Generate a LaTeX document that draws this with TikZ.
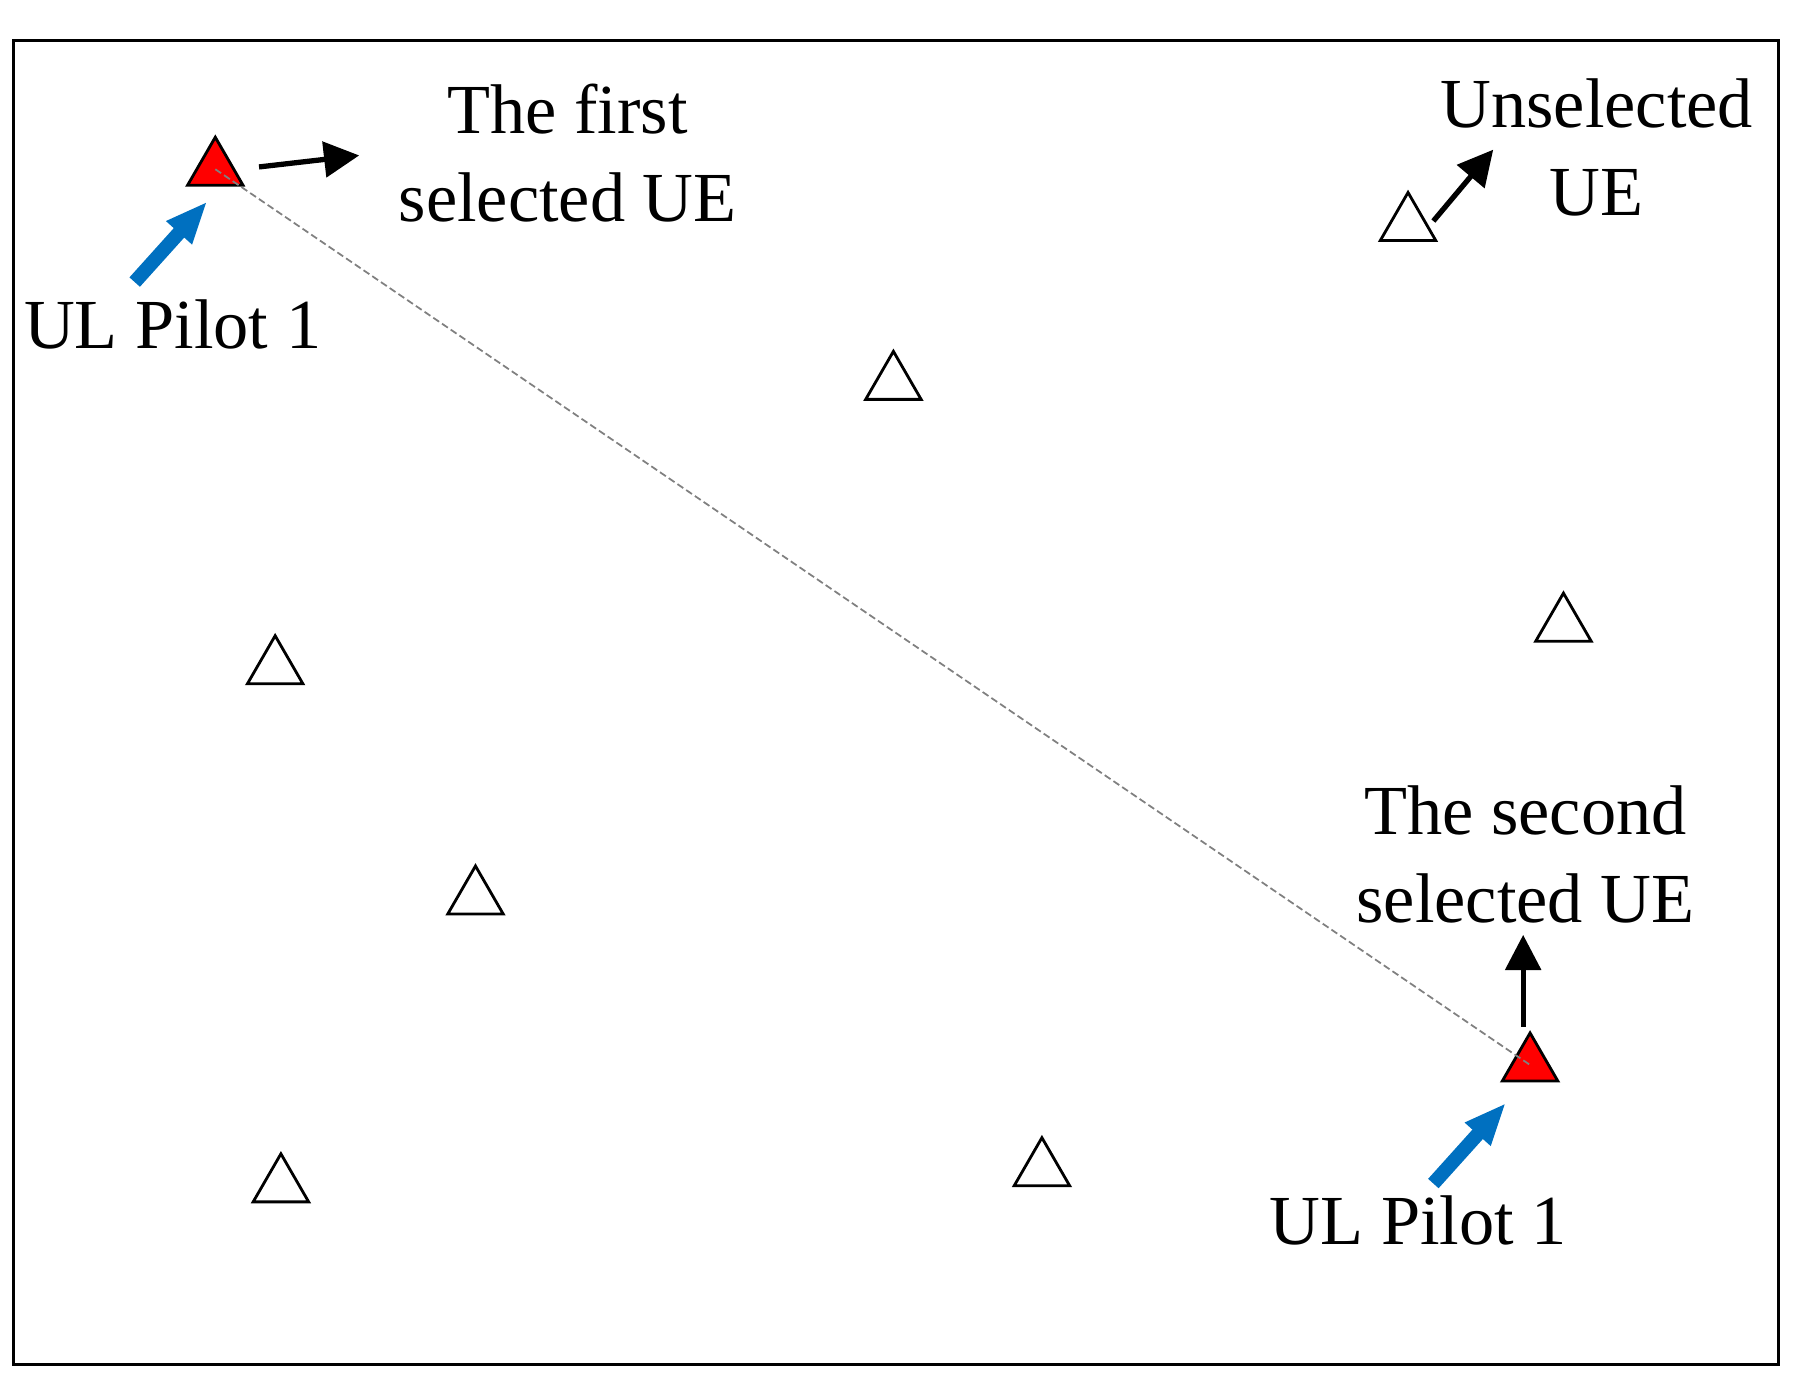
\documentclass[tikz,border=0pt]{standalone}
\usepackage{fontspec}
\setmainfont{Liberation Serif}
\usetikzlibrary{shapes.geometric,arrows.meta}
\begin{document}
\begin{tikzpicture}[x=0.01151cm,y=-0.01151cm,
  ue/.style={regular polygon,regular polygon sides=3,minimum size=0.64cm,inner sep=0pt,draw=black,line width=0.8pt,fill=white},
  sel/.style={ue,fill=red},
  lbl/.style={font=\fontsize{20}{25}\selectfont,align=center,inner sep=0pt},
  blk/.style={-{Triangle[length=10pt,width=10pt]},line width=1.5pt},
  blu/.style={-{Triangle[length=12pt,width=9pt]},line width=4pt,draw={rgb,255:red,0;green,112;blue,192},color={rgb,255:red,0;green,112;blue,192}}]
\useasboundingbox (0,0) rectangle (1560,1210);
\coordinate (f1) at (12,35); \coordinate (f2) at (1545,1185);
\draw[line width=0.8pt] (f1) rectangle (f2);
\node[sel] (r1) at (187,147) {};
\node[sel] (r2) at (1329,925) {};
\node[ue] (u1) at (1223,195) {};
\node[ue] (u2) at (776,333) {};
\node[ue] (u3) at (1358,543) {};
\node[ue] (u4) at (239,580) {};
\node[ue] (u5) at (413,780) {};
\node[ue] (u6) at (244,1030) {};
\node[ue] (u7) at (905,1016) {};
\draw[gray,dash pattern=on 2pt off 1pt,line width=0.5pt] (r1.center) -- (r2.center);
\node[lbl] (t1) at (493,133) {The first\\selected UE};
\node[lbl] (t2) at (1387,128) {Unselected\\UE};
\node[lbl] (t3) at (150,282) {UL Pilot 1};
\node[lbl] (t4) at (1325,742) {The second\\selected UE};
\node[lbl] (t5) at (1232,1060) {UL Pilot 1};
\coordinate (a1s) at (225,145); \coordinate (a1e) at (312,135);
\coordinate (a2s) at (1245,192); \coordinate (a2e) at (1297,130);
\coordinate (a3s) at (1323,892); \coordinate (a3e) at (1323,812);
\coordinate (b1s) at (117,245); \coordinate (b1e) at (180,175);
\coordinate (b2s) at (1245,1028); \coordinate (b2e) at (1308,958);
\draw[blk] (a1s) -- (a1e);
\draw[blk] (a2s) -- (a2e);
\draw[blk] (a3s) -- (a3e);
\draw[blu] (b1s) -- (b1e);
\draw[blu] (b2s) -- (b2e);
\end{tikzpicture}
\end{document}
